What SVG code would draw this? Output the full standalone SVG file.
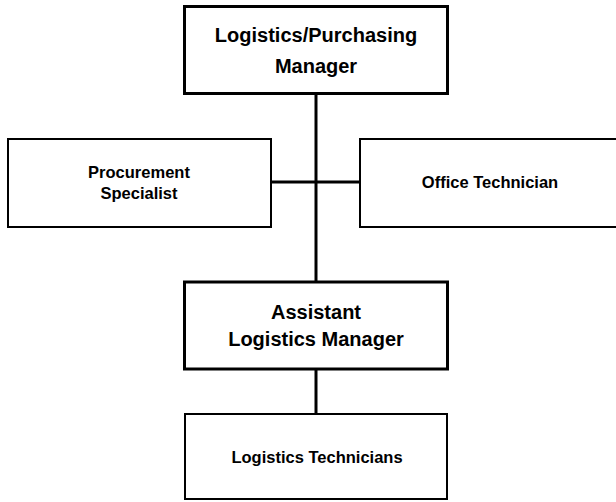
<svg xmlns="http://www.w3.org/2000/svg" width="616" height="502" viewBox="0 0 616 502">
<style>
.thick{fill:#fff;stroke:#000;stroke-width:3}
.thin{fill:#fff;stroke:#000;stroke-width:2}
.big{font-family:"Liberation Sans",Arial,sans-serif;font-weight:bold;font-size:20px;fill:#000;text-anchor:middle}
.small{font-family:"Liberation Sans",Arial,sans-serif;font-weight:bold;font-size:16.5px;fill:#000;text-anchor:middle}
.conn{stroke:#000;stroke-width:3;fill:none}
</style>
<rect width="616" height="502" fill="#fff"/>
<g id="connectors">
<line class="conn" x1="316" y1="93" x2="316" y2="282"/>
<line class="conn" x1="271" y1="182" x2="360" y2="182"/>
<line class="conn" x1="316" y1="369" x2="316" y2="414"/>
</g>
<g id="manager">
<rect class="thick" x="184.5" y="6.5" width="263" height="87"/>
<text class="big" x="316" y="42">Logistics/Purchasing</text>
<text class="big" x="316" y="73">Manager</text>
</g>
<g id="procurement">
<rect class="thin" x="8" y="139" width="263" height="88"/>
<text class="small" x="139" y="178">Procurement</text>
<text class="small" x="139" y="199">Specialist</text>
</g>
<g id="office">
<rect class="thin" x="360" y="139" width="270" height="88"/>
<text class="small" x="490" y="188">Office Technician</text>
</g>
<g id="assistant">
<rect class="thick" x="184.5" y="282" width="263" height="87"/>
<text class="big" x="316" y="319">Assistant</text>
<text class="big" x="316" y="346">Logistics Manager</text>
</g>
<g id="technicians">
<rect class="thin" x="185" y="414" width="262" height="85"/>
<text class="small" x="317" y="463">Logistics Technicians</text>
</g>
</svg>
